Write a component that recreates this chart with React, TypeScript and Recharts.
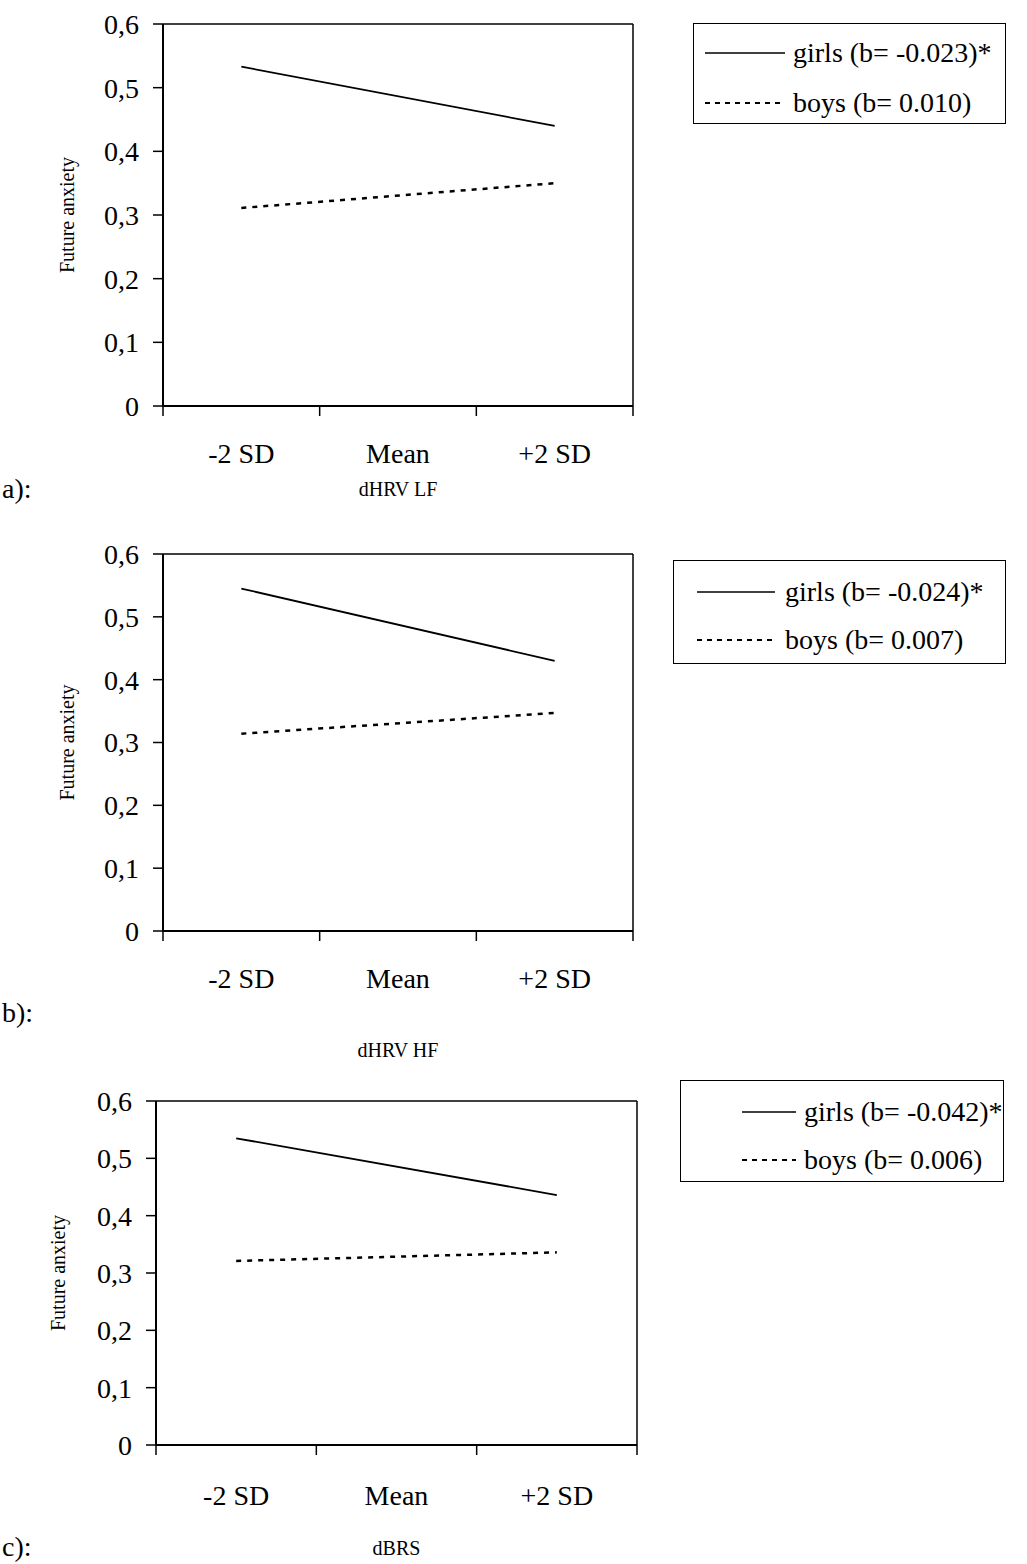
import React from "react";
import { LineChart, Line, XAxis, YAxis, ReferenceLine, Legend, Label } from "recharts";

const FONT = '"Liberation Serif", "Times New Roman", serif';
const DASH = "5 6";

const sdLevels = ["-2 SD", "Mean", "+2 SD"];
const yTicks = [0, 0.1, 0.2, 0.3, 0.4, 0.5, 0.6];

// simple slopes, only the two ends are plotted
const girlsLF = [0.533, null, 0.44];
const boysLF = [0.311, null, 0.35];
const girlsHF = [0.545, null, 0.43];
const boysHF = [0.314, null, 0.347];
const girlsBRS = [0.535, null, 0.436];
const boysBRS = [0.321, null, 0.336];

const namesLF = ["girls (b= -0.023)*", "boys (b= 0.010)"];
const namesHF = ["girls (b= -0.024)*", "boys (b= 0.007)"];
const namesBRS = ["girls (b= -0.042)*", "boys (b= 0.006)"];

const seriesOrder = ["girls", "boys"];

const fmtY = (v: number) => (v === 0 ? "0" : v.toFixed(1).replace(".", ","));

type Box = { x: number; y: number; w: number; h: number; pad: number; row: number; lineX: number; lineW: number; gap: number };

type PanelProps = {
  top: number;
  height: number;
  plotLeft: number;
  plotRight: number;
  plotTop: number;
  plotBottom: number;
  girls: (number | null)[];
  boys: (number | null)[];
  names: string[];
  title: string;
  titleY: number;
  labelDy: number;
  yLabelX: number;
  legend: Box;
  tag: string;
  tagY: number;
};

const Panel: React.FC<PanelProps> = (p) => {
  const data = sdLevels.map((sd, i) => ({ sd, girls: p.girls[i], boys: p.boys[i] }));
  const bw = (p.plotRight - p.plotLeft) / sdLevels.length;
  const rightAxisW = 10;

  const renderTick = (props: any) => {
    const { x, y, payload, index } = props;
    const last = index === sdLevels.length - 1;
    return (
      <g>
        <line x1={x - bw / 2} x2={x - bw / 2} y1={y} y2={y + 10} stroke="#000" strokeWidth={1.5} />
        {last && <line x1={x + bw / 2} x2={x + bw / 2} y1={y} y2={y + 10} stroke="#000" strokeWidth={1.5} />}
        <text x={x} y={y + p.labelDy} textAnchor="middle" dominantBaseline="central" fontFamily={FONT} fontSize={28} fill="#000">
          {payload.value}
        </text>
      </g>
    );
  };

  const renderLegend = (props: any) => {
    const items = [...(props.payload || [])].sort(
      (a: any, b: any) => seriesOrder.indexOf(a.dataKey) - seriesOrder.indexOf(b.dataKey)
    );
    const b = p.legend;
    return (
      <div
        style={{
          width: b.w,
          height: b.h,
          border: "1.5px solid #000",
          boxSizing: "border-box",
          paddingTop: b.pad,
          fontFamily: FONT,
          fontSize: 28,
          color: "#000",
          background: "#fff",
        }}
      >
        {items.map((entry: any, i: number) => {
          const dashed = entry.dataKey === "boys";
          return (
            <div key={i} style={{ display: "flex", alignItems: "center", height: b.row, paddingLeft: b.lineX }}>
              <svg width={b.lineW} height={6} style={{ display: "block" }}>
                <line x1={0} x2={b.lineW} y1={3} y2={3} stroke="#000" strokeWidth={dashed ? 2 : 1.5} strokeDasharray={dashed ? "5 5" : undefined} />
              </svg>
              <span style={{ marginLeft: b.gap, whiteSpace: "nowrap", lineHeight: 1 }}>{entry.value}</span>
            </div>
          );
        })}
      </div>
    );
  };

  return (
    <div style={{ position: "absolute", left: 0, top: p.top }}>
      <LineChart
        width={1027}
        height={p.height}
        data={data}
        margin={{ top: p.plotTop, right: 1027 - p.plotRight - rightAxisW, bottom: 0, left: 0 }}
      >
        <XAxis
          dataKey="sd"
          type="category"
          scale="band"
          interval={0}
          height={p.height - p.plotBottom}
          tickSize={0}
          tickMargin={0}
          tickLine={false}
          axisLine={{ stroke: "#000", strokeWidth: 2 }}
          tick={renderTick}
        >
          <Label
            content={() => (
              <text x={(p.plotLeft + p.plotRight) / 2} y={p.titleY} textAnchor="middle" dominantBaseline="central" fontFamily={FONT} fontSize={20} fill="#000">
                {p.title}
              </text>
            )}
          />
        </XAxis>
        <YAxis
          domain={[0, 0.6]}
          ticks={yTicks}
          interval={0}
          tickFormatter={fmtY}
          width={p.plotLeft}
          tickSize={10}
          tickMargin={14}
          axisLine={{ stroke: "#000", strokeWidth: 2 }}
          tickLine={{ stroke: "#000", strokeWidth: 1.5 }}
          tick={{ fill: "#000", fontSize: 28, fontFamily: FONT }}
        >
          <Label
            content={() => {
              const cy = (p.plotTop + p.plotBottom) / 2;
              return (
                <text
                  x={p.yLabelX}
                  y={cy}
                  transform={`rotate(-90, ${p.yLabelX}, ${cy})`}
                  textAnchor="middle"
                  dominantBaseline="central"
                  fontFamily={FONT}
                  fontSize={20}
                  fill="#000"
                >
                  Future anxiety
                </text>
              );
            }}
          />
        </YAxis>
        <YAxis
          yAxisId="frame"
          orientation="right"
          domain={[0, 0.6]}
          width={rightAxisW}
          tick={false}
          tickLine={false}
          axisLine={{ stroke: "#000", strokeWidth: 1.5 }}
        />
        <ReferenceLine y={0.6} stroke="#000" strokeWidth={1.5} />
        <Legend
          layout="vertical"
          align="center"
          verticalAlign="middle"
          content={renderLegend}
          wrapperStyle={{ position: "absolute", left: p.legend.x, top: p.legend.y, width: p.legend.w, height: p.legend.h }}
        />
        <Line
          type="linear"
          dataKey="girls"
          name={p.names[0]}
          stroke="#000"
          strokeWidth={1.8}
          dot={false}
          connectNulls
          isAnimationActive={false}
        />
        <Line
          type="linear"
          dataKey="boys"
          name={p.names[1]}
          stroke="#000"
          strokeWidth={2.5}
          strokeDasharray={DASH}
          dot={false}
          connectNulls
          isAnimationActive={false}
        />
      </LineChart>
      <div style={{ position: "absolute", left: 2, top: p.tagY, transform: "translateY(-50%)", fontFamily: FONT, fontSize: 28, color: "#000" }}>
        {p.tag}
      </div>
    </div>
  );
};

export default function App() {
  return (
    <div style={{ position: "relative", width: 1027, height: 1564, background: "#fff", overflow: "hidden" }}>
      <style>{"body{margin:0;background:#fff}"}</style>
      <Panel
        top={0}
        height={505}
        plotLeft={163}
        plotRight={633}
        plotTop={24}
        plotBottom={406}
        girls={girlsLF}
        boys={boysLF}
        names={namesLF}
        title="dHRV LF"
        titleY={489}
        labelDy={47}
        yLabelX={67}
        legend={{ x: 693, y: 23, w: 313, h: 101, pad: 4, row: 50, lineX: 11, lineW: 80, gap: 8 }}
        tag="a):"
        tagY={489}
      />
      <Panel
        top={530}
        height={545}
        plotLeft={163}
        plotRight={633}
        plotTop={24}
        plotBottom={401}
        girls={girlsHF}
        boys={boysHF}
        names={namesHF}
        title="dHRV HF"
        titleY={520}
        labelDy={47}
        yLabelX={67}
        legend={{ x: 673, y: 30, w: 333, h: 104, pad: 7, row: 48, lineX: 23, lineW: 78, gap: 10 }}
        tag="b):"
        tagY={483}
      />
      <Panel
        top={1070}
        height={494}
        plotLeft={156}
        plotRight={637}
        plotTop={31}
        plotBottom={375}
        girls={girlsBRS}
        boys={boysBRS}
        names={namesBRS}
        title="dBRS"
        titleY={478}
        labelDy={50}
        yLabelX={58}
        legend={{ x: 680, y: 10, w: 324, h: 102, pad: 7, row: 48, lineX: 61, lineW: 54, gap: 8 }}
        tag="c):"
        tagY={477}
      />
    </div>
  );
}
